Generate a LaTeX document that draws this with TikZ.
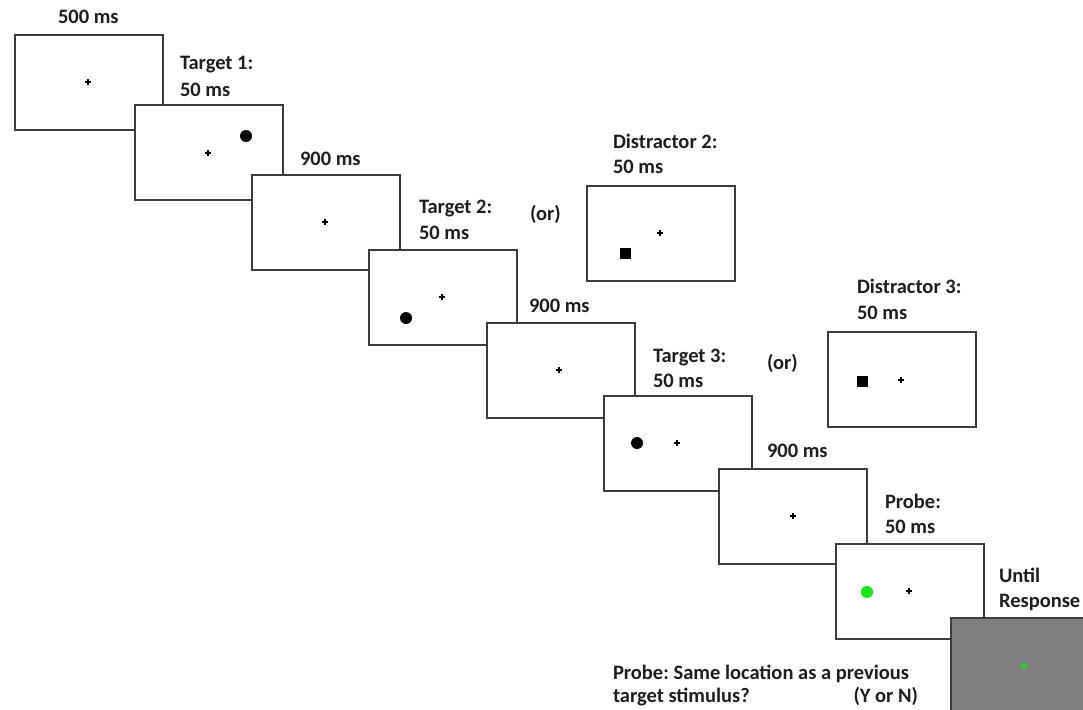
\documentclass[tikz,border=0pt]{standalone}
\usepackage{fontspec}
\setmainfont{Carlito}
\frenchspacing
\definecolor{boxline}{HTML}{3C3C3C}
\definecolor{txtcol}{HTML}{1E1E1E}
\definecolor{grayfill}{HTML}{7F7F7F}
\definecolor{probegreen}{HTML}{19E619}
\tikzset{
  box/.style={draw=boxline, line width=1.3pt, fill=white, anchor=north west,
    minimum width=148pt, minimum height=95pt, inner sep=0pt, outer sep=0pt},
  graybox/.style={box, fill=grayfill},
  lbl/.style={anchor=base west, inner sep=0pt, outer sep=0pt, text=txtcol,
    font=\fontsize{20.5}{26}\selectfont\bfseries},
  fix/.pic={\draw[line width=1.2pt, draw=#1] (-2.7,0) -- (2.7,0) (0,-2.7) -- (0,2.7);},
  fix/.default=black!75,
  dot/.style={fill=black},
}
\begin{document}
\begin{tikzpicture}[x=1pt,y=-1pt]
\useasboundingbox (0,0) rectangle (1083,709);
\clip (0,0) rectangle (1083,709);
% main sequence of screens
\node[box] (b1) at (15,35) {};
\pic at (88,82) {fix};
\node[box] (b2) at (135,105) {};
\pic at (208,153) {fix};
\fill[dot] (246,136) circle[radius=6pt];
\node[box] (b3) at (252,175) {};
\pic at (325,222) {fix};
\node[box] (b4) at (369,250) {};
\pic at (442,297) {fix};
\fill[dot] (406,318) circle[radius=6pt];
\node[box] (b5) at (487,323) {};
\pic at (559,370) {fix};
\node[box] (b6) at (604,396) {};
\fill[dot] (637,443) circle[radius=6pt];
\pic at (677,443) {fix};
\node[box] (b7) at (719,469) {};
\pic at (793,516) {fix};
\node[box] (b8) at (836,544) {};
\fill[probegreen] (867,592) circle[radius=6pt];
\pic at (909,591) {fix};
\node[graybox] (b9) at (951,618) {};
\pic at (1024,666) {fix=probegreen};
% distractor screens
\node[box] (d2) at (587,186) {};
\pic at (660,233) {fix};
\fill[dot] (619.5,247.5) rectangle (630.5,258.5);
\node[box] (d3) at (828,332) {};
\fill[dot] (856.5,375.5) rectangle (867.5,386.5);
\pic at (901,380) {fix};
% labels
\node[lbl] (l1) at (58,24) {500 ms};
\node[lbl] (l2a) at (180,70) {Target 1:};
\node[lbl] (l2b) at (180,96) {50 ms};
\node[lbl] (l3) at (300,165) {900 ms};
\node[lbl] (l4a) at (419,213) {Target 2:};
\node[lbl] (l4b) at (419,239) {50 ms};
\node[lbl] (or1) at (530,220) {(or)};
\node[lbl] (ld2a) at (613,148) {Distractor 2:};
\node[lbl] (ld2b) at (613,173) {50 ms};
\node[lbl] (l5) at (529,312) {900 ms};
\node[lbl] (l6a) at (653,362) {Target 3:};
\node[lbl] (l6b) at (653,387) {50 ms};
\node[lbl] (or2) at (767,369) {(or)};
\node[lbl] (ld3a) at (857,293) {Distractor 3:};
\node[lbl] (ld3b) at (857,319) {50 ms};
\node[lbl] (l7) at (767,457) {900 ms};
\node[lbl] (l8a) at (885,508) {Probe:};
\node[lbl] (l8b) at (885,533) {50 ms};
\node[lbl] (l9a) at (999,582) {Until};
\node[lbl] (l9b) at (999,607) {Response};
\node[lbl] (q1) at (613,679) {Probe: Same location as a previous};
\node[lbl] (q2) at (613,702) {target stimulus?};
\node[lbl, anchor=base east] (q3) at (918,702) {(Y or N)};
\end{tikzpicture}
\end{document}
